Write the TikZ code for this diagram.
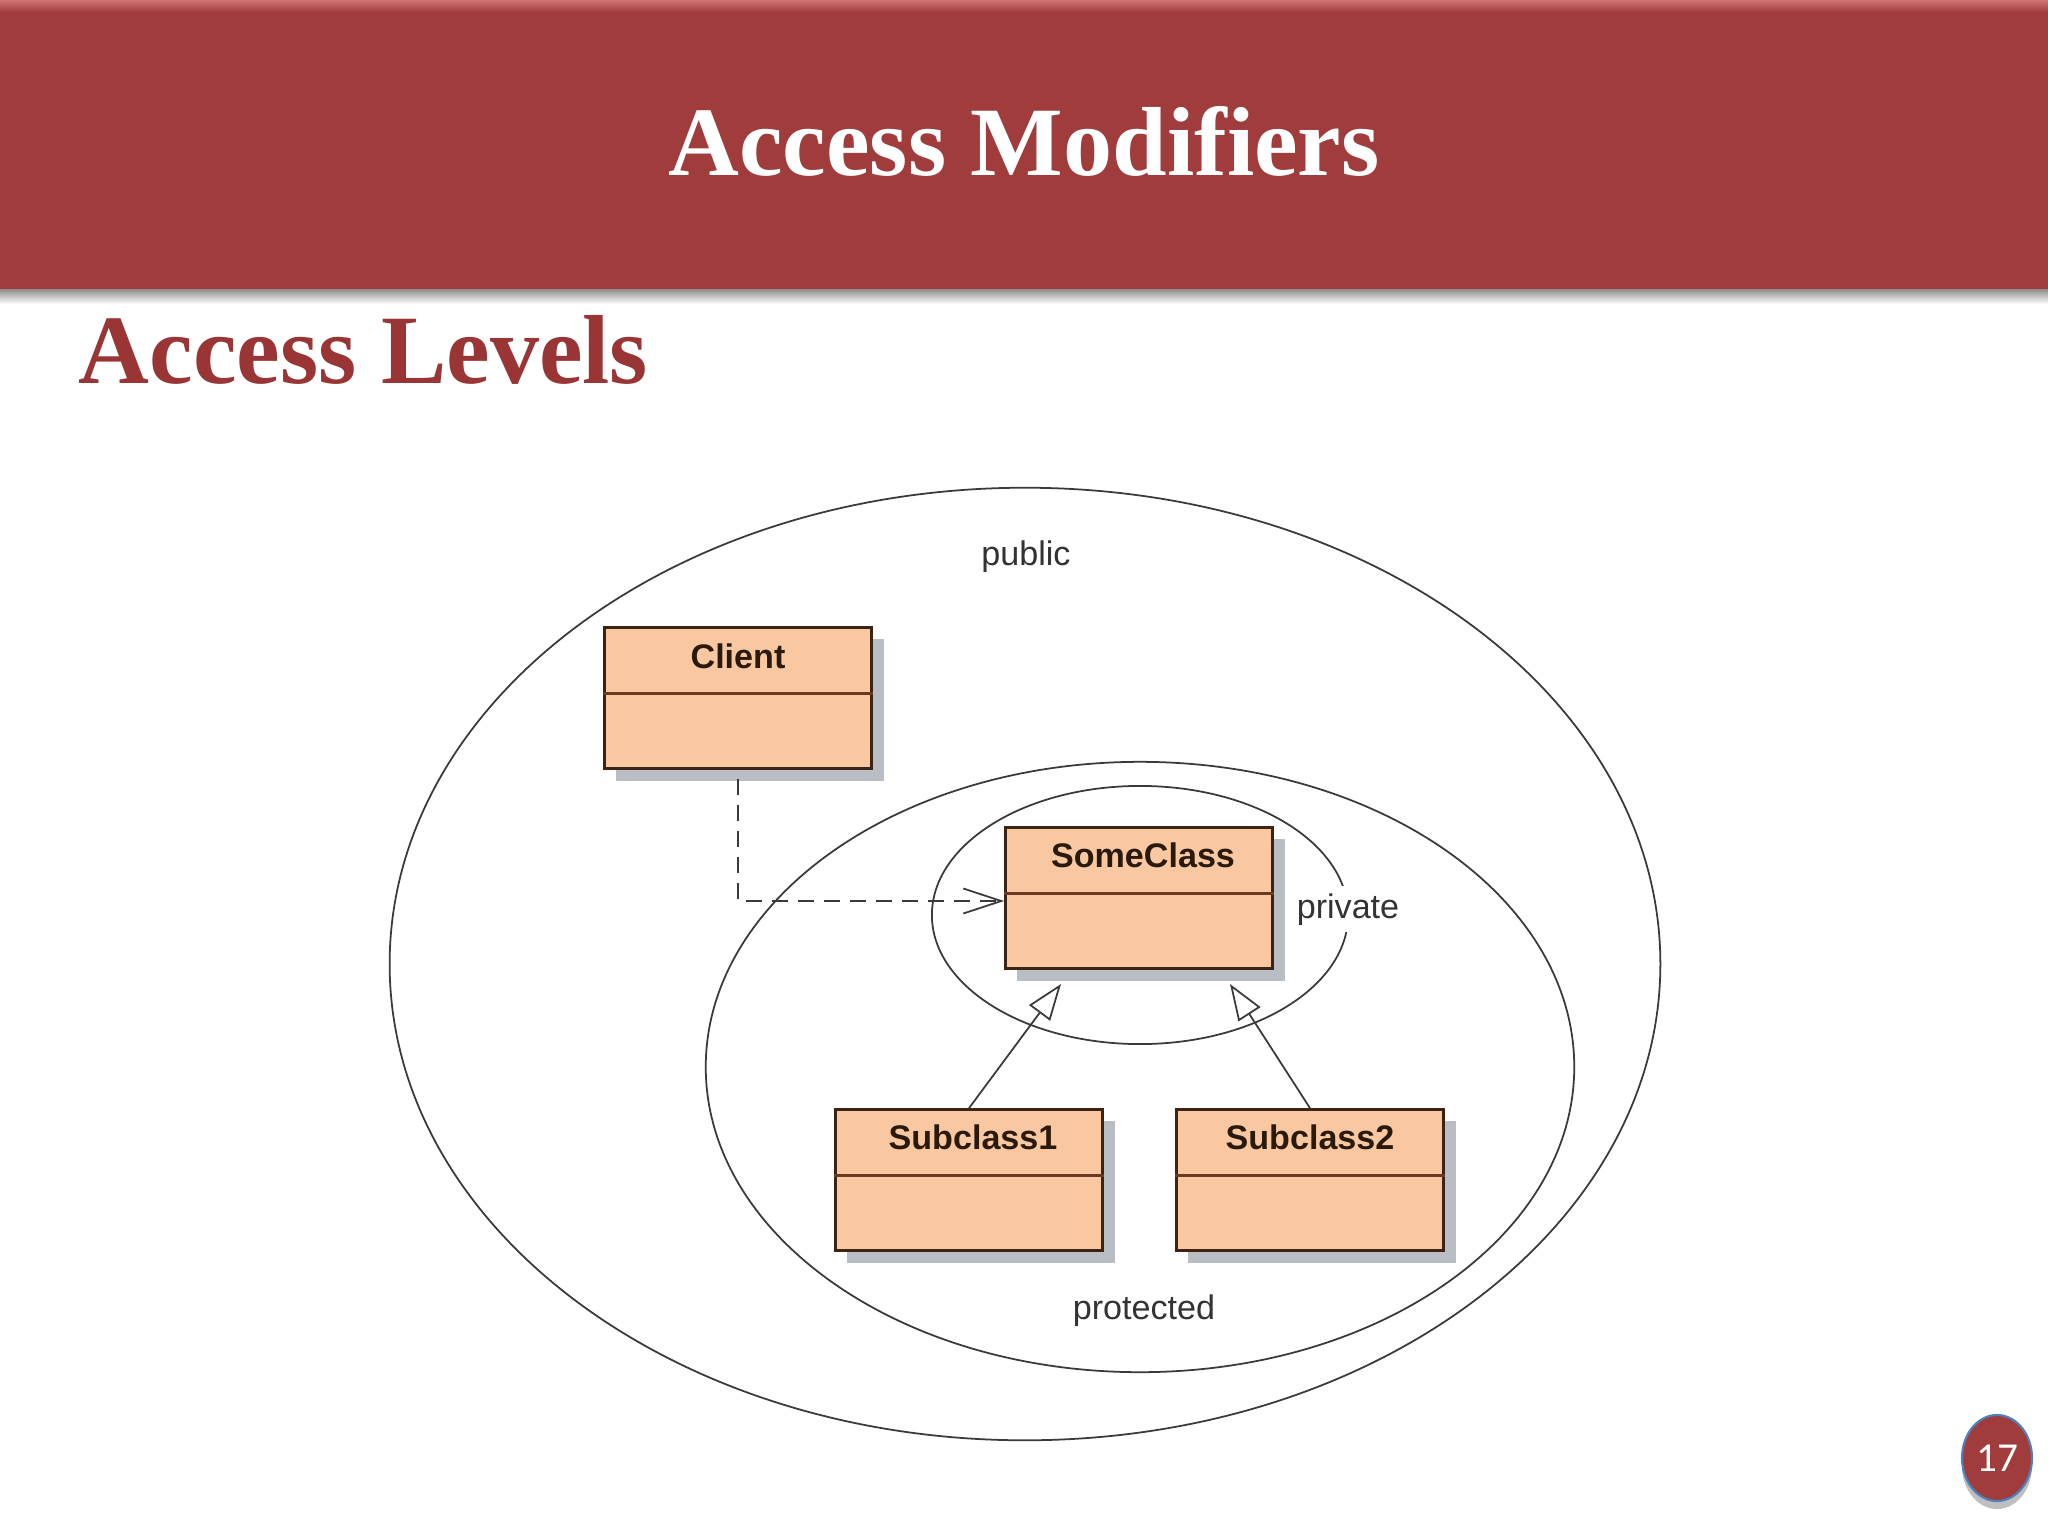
\documentclass[tikz,border=0pt]{standalone}
\usepackage{fontspec}
\setmainfont{Liberation Serif}
\newfontfamily\uifont{Liberation Sans}
\newfontfamily\numfont{Carlito}
\usetikzlibrary{shapes.geometric,arrows.meta,shadows,calc}
\definecolor{headred}{HTML}{A03C3C}
\definecolor{headlight}{HTML}{D07474}
\definecolor{subred}{HTML}{9A3535}
\definecolor{peach}{HTML}{FAC8A0}
\definecolor{boxline}{HTML}{3D2314}
\definecolor{divline}{HTML}{6A3A20}
\definecolor{nametext}{HTML}{2A1A0E}
\definecolor{regionline}{HTML}{3A3A3A}
\definecolor{labeltext}{HTML}{333333}
\definecolor{shadowgrey}{HTML}{B9BEC4}
\definecolor{numblue}{HTML}{4F81BD}
\begin{document}
\begin{tikzpicture}[x=0.01cm,y=-0.01cm,
  region/.style={ellipse, draw=regionline, line width=0.5pt, inner sep=0pt, outer sep=0pt},
  classbox/.style={draw=boxline, fill=peach, line width=0.75pt, minimum width=2.67cm, minimum height=1.41cm, inner sep=0pt,
    drop shadow={shadow xshift=0.12cm, shadow yshift=-0.12cm, fill=shadowgrey, opacity=1}},
  classname/.style={font={\uifont\bfseries\fontsize{9.7pt}{11pt}\selectfont}, text=nametext, inner sep=0pt, anchor=base},
  divider/.style={draw=divline, line width=0.75pt},
  regionlabel/.style={font={\uifont\fontsize{9.7pt}{11pt}\selectfont}, text=labeltext, inner sep=0pt, anchor=base},
  dep/.style={draw=regionline, line width=0.5pt, dash pattern=on 0.16cm off 0.1cm, shorten <=0.09cm,
    -{Straight Barb[length=0.38cm, width=0.25cm, line width=0.5pt]}},
  inh/.style={draw=regionline, line width=0.5pt, -{Triangle[open, length=0.36cm, width=0.26cm, line width=0.5pt]}},
  pagenum/.style={ellipse, fill=headred, draw=numblue, line width=0.6pt, minimum width=0.70cm, minimum height=0.86cm, inner sep=0pt,
    text=white, font={\numfont\fontsize{11.7pt}{13pt}\selectfont},
    drop shadow={shadow xshift=0cm, shadow yshift=-0.08cm, fill=black, opacity=0.25}}
]
\useasboundingbox (0,0) rectangle (2048,1536);
\fill[white] (0,0) rectangle (2048,1536);

% header band
\node[fill=headred, minimum width=20.48cm, minimum height=2.89cm, inner sep=0pt, outer sep=0pt, anchor=north west] (band) at (0,0) {};
\shade[top color=headlight, bottom color=headred] (0,0) rectangle (2048,12);
\shade[top color=black!45, bottom color=white] (0,289) rectangle (2048,304);
\node[text=white, inner sep=0pt, anchor=base, font={\bfseries\fontsize{27.9pt}{33pt}\selectfont}] (title) at (1024,175) {Access Modifiers};
\node[text=subred, inner sep=0pt, anchor=base west, font={\bfseries\fontsize{27.9pt}{33pt}\selectfont}] (subtitle) at (78,383) {Access Levels};

% regions
\node[region, minimum width=12.70cm, minimum height=9.52cm] (public) at (1025,964) {};
\node[region, minimum width=8.68cm, minimum height=6.10cm] (protected) at (1140,1067) {};
\node[region, minimum width=4.16cm, minimum height=2.58cm] (private) at (1140,915) {};

\node[regionlabel] (publiclbl) at (1026,565) {public};
\node[regionlabel, fill=white, inner sep=2pt] (privatelbl) at (1348,918) {private};
\node[regionlabel] (protectedlbl) at (1144,1319) {protected};

% classes
\node[classbox] (client) at (738,698) {};
\node[classbox] (some) at (1139,898) {};
\node[classbox] (sub1) at (969,1180) {};
\node[classbox] (sub2) at (1310,1180) {};

\foreach \b in {client,some,sub1,sub2}{
  \draw[divider] ([yshift=-0.67cm]\b.north west) -- ([yshift=-0.67cm]\b.north east);
}
\node[classname] (clientname) at ([yshift=-0.42cm]client.north) {Client};
\node[classname] (somename) at ([xshift=0.04cm,yshift=-0.41cm]some.north) {SomeClass};
\node[classname] (sub1name) at ([xshift=0.04cm,yshift=-0.41cm]sub1.north) {Subclass1};
\node[classname] (sub2name) at ([yshift=-0.41cm]sub2.north) {Subclass2};

% connectors
\coordinate (tip1) at (1061,984);
\coordinate (tip2) at (1230,984);
\draw[dep] (client.south) |- ([yshift=-0.03cm]some.west);
\draw[inh] (sub1.north) -- (tip1);
\draw[inh] (sub2.north) -- (tip2);

% page number
\node[pagenum] (page) at (1997,1458) {17};
\end{tikzpicture}
\end{document}
